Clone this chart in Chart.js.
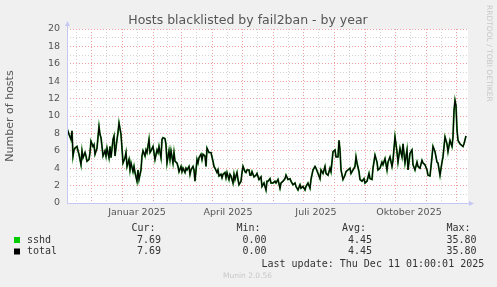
<!DOCTYPE html>
<html>
<head>
<meta charset="utf-8">
<script src="https://cdn.jsdelivr.net/npm/chart.js@4"></script>
<style>
  html, body { margin: 0; padding: 0; background: #f0f0f0; }
  canvas { display: block; }
</style>
</head>
<body>
<canvas id="mycanvas" width="497" height="287"></canvas>
<script>
// day 0 = 7 Nov 2024, one step per day (munin "by year" = 400 days)
var days = [0,2,4,5,6,7,8,10,11,12,14,15,16,18,19,20,22,23,24,26,27,28,30,32,33,34,35,36,38,39,
  40,42,43,44,46,47,48,50,51,52,54,55,56,58,59,60,62,63,64,66,67,68,70,71,72,74,75,76,78,79,
  80,82,83,84,86,87,88,90,91,92,94,95,96,98,99,100,102,103,104,106,107,108,110,111,112,114,115,116,118,119,
  120,122,123,124,126,127,128,130,131,132,134,135,136,138,139,140,142,143,144,146,147,148,150,151,152,154,155,156,158,159,
  160,162,163,164,166,167,168,170,171,172,174,175,176,178,179,180,182,183,184,185,187,189,190,192,194,195,197,199,200,201,
  203,204,206,208,209,211,213,214,216,218,219,221,223,224,226,228,229,231,233,234,236,238,239,241,243,244,246,248,249,251,
  253,254,256,258,259,261,263,264,266,268,269,271,272,273,274,276,278,279,281,283,284,286,288,289,290,292,293,295,297,298,
  300,302,303,305,306,308,310,311,313,315,316,318,320,321,323,325,326,328,330,331,333,335,336,338,340,341,343,345,346,348,
  350,351,353,355,356,358,360,361,363,365,366,368,370,371,373,375,376,378,380,381,383,385,386,387,388,389,390,391,393,395,
  396,397,399];
var sshd = [8.6,7.9,7.3,8.3,5.4,6.1,6.3,6.5,6.0,5.6,4.4,6.0,5.2,5.8,5.4,4.8,5.0,5.8,7.1,6.5,6.7,5.6,6.3,8.8,7.9,7.5,6.5,5.4,6.0,5.4,
  6.3,5.2,6.5,5.2,7.3,7.7,5.4,7.3,8.1,9.2,7.9,6.3,4.6,5.2,5.8,4.2,5.0,3.8,4.6,3.6,4.2,3.5,2.5,3.8,2.7,3.8,5.4,6.0,5.4,6.1,
  5.8,7.3,5.8,6.0,6.5,5.8,5.0,6.1,5.8,6.5,5.2,7.3,7.5,7.4,6.7,4.6,6.0,5.0,6.0,4.6,5.8,4.8,4.6,4.2,3.6,4.2,3.6,4.0,3.5,4.0,
  3.8,4.2,3.3,3.8,4.2,3.8,2.5,5.0,4.6,5.2,5.6,5.0,5.6,5.4,4.2,6.3,5.8,5.8,5.8,4.8,4.2,4.0,3.5,3.8,3.1,3.3,2.9,3.3,3.5,2.9,
  3.5,2.7,3.3,3.1,2.3,3.3,2.7,3.5,2.7,2.1,2.5,3.5,4.2,3.6,3.5,3.8,3.8,3.2,3.2,3.6,3.0,3.2,3.4,2.7,3.0,1.9,2.3,1.5,2.5,2.5,
  2.8,2.3,2.3,2.5,2.3,2.7,1.7,2.3,2.5,2.8,3.2,2.7,2.8,2.5,2.1,2.3,1.9,1.5,2.1,1.7,1.9,1.5,1.9,2.3,1.7,2.7,3.8,4.2,4.0,3.4,
  2.8,3.8,3.4,4.2,3.4,3.2,4.0,3.6,5.9,6.1,5.3,5.3,7.2,6.1,3.8,2.7,3.2,3.6,3.8,4.0,3.4,3.8,4.2,5.3,4.6,3.6,2.7,2.5,2.8,2.3,
  2.5,3.4,2.8,2.7,4.0,5.5,4.7,3.8,4.0,4.7,4.4,5.1,3.8,4.7,5.3,4.2,4.9,7.6,5.9,4.7,6.3,5.3,6.8,4.6,6.1,3.8,5.7,6.1,4.4,3.8,
  4.7,4.2,4.0,4.9,4.6,4.4,3.8,3.2,3.1,5.3,6.5,5.9,4.7,4.6,3.2,4.7,5.3,7.6,6.8,5.9,7.2,6.5,7.6,10.6,11.8,11.2,8.4,7.2,6.8,6.6,
  6.5,6.8,7.7];
var total = sshd; // only one plugin, so total == sshd

var monthStarts = [24,55,86,114,145,175,206,236,267,298,328,359,389];
var monthMids = [9,39,70,100,129,160,190,221,251,282,313,343,374];
var labelDays = [70,161,249,342];
var monthLabels = ['Januar 2025','April 2025','Juli 2025','Oktober 2025'];

var legendNames = ['sshd','total'];
var legendColors = ['#00cc00','#000000'];
var cur = ['7.69','7.69'];
var min = ['0.00','0.00'];
var avg = ['4.45','4.45'];
var max = ['35.80','35.80'];

var RED = 'rgb(238,160,160)';
var GRAY = 'rgb(212,212,212)';
var AXIS = '#c4c8f2';

function pts(arr) {
	return days.map(function(d, i) { return {x: d, y: arr[i]}; });
}

var decor = {
	id: 'decor',
	beforeDraw: function(chart) {
		var c = chart.ctx, a = chart.chartArea;
		c.save();
		c.fillStyle = '#f0f0f0';
		c.fillRect(0, 0, chart.width, chart.height);
		c.fillStyle = '#ffffff';
		c.fillRect(a.left, a.top, a.right - a.left, a.bottom - a.top);
		c.restore();
	},
	afterDraw: function(chart) {
		var c = chart.ctx, a = chart.chartArea;
		c.save();
		// axes + arrows
		c.strokeStyle = AXIS;
		c.lineWidth = 1;
		c.beginPath();
		c.moveTo(a.left + 0.5, a.bottom);
		c.lineTo(a.left + 0.5, a.top - 4);
		c.moveTo(a.left, a.bottom + 0.5);
		c.lineTo(a.right + 3, a.bottom + 0.5);
		c.stroke();
		c.fillStyle = AXIS;
		c.beginPath();
		c.moveTo(a.left - 2, a.top - 3); c.lineTo(a.left + 3, a.top - 3); c.lineTo(a.left + 0.5, a.top - 8);
		c.fill();
		c.beginPath();
		c.moveTo(a.right + 1, a.bottom - 2); c.lineTo(a.right + 1, a.bottom + 3); c.lineTo(a.right + 6, a.bottom + 0.5);
		c.fill();

		// title
		c.fillStyle = '#555';
		c.font = '12.5px "DejaVu Sans"';
		c.textAlign = 'center';
		c.textBaseline = 'alphabetic';
		c.fillText('Hosts blacklisted by fail2ban - by year', 248, 24);

		// rrdtool credit
		c.save();
		c.translate(485.5, 5);
		c.rotate(Math.PI / 2);
		c.fillStyle = '#c8c8c8';
		c.font = '7.5px "DejaVu Sans"';
		c.textAlign = 'left';
		c.textBaseline = 'bottom';
		c.fillText('RRDTOOL / TOBI OETIKER', 0, 0);
		c.restore();

		// legend
		c.font = '10px "DejaVu Sans Mono"';
		c.textBaseline = 'middle';
		c.textAlign = 'left';
		c.fillStyle = '#333';
		c.fillText('Cur:', 131.5, 228);
		c.fillText('Min:', 236.5, 228);
		c.fillText('Avg:', 342, 228);
		c.fillText('Max:', 446.5, 228);
		for (var i = 0; i < legendNames.length; i++) {
			var y = 240 + i * 11.5;
			c.fillStyle = legendColors[i];
			c.fillRect(14, y - 3, 6, 6);
			c.fillStyle = '#333';
			c.fillText(legendNames[i], 27, y);
			c.fillText(cur[i], 137, y);
			c.fillText(min[i], 242.5, y);
			c.fillText(avg[i], 348, y);
			c.fillText(max[i], 446.5, y);
		}
		c.fillText('Last update: Thu Dec 11 01:00:01 2025', 261.5, 264);

		c.fillStyle = '#c8c8c8';
		c.font = '7.5px "DejaVu Sans"';
		c.textAlign = 'left';
		c.fillText('Munin 2.0.56', 223, 276);
		c.restore();
	}
};

var ctx = document.getElementById('mycanvas');

var lineGraph = new Chart(ctx, {
	type: 'line',
	data: {
		datasets: [
			{ label: 'total', data: pts(total), borderColor: '#000000', borderWidth: 1.1, order: 0 },
			{ label: 'sshd', data: pts(sshd), borderColor: '#1f8a1f', borderWidth: 1.8, order: 1 }
		]
	},
	options: {
		responsive: false,
		animation: false,
		layout: { padding: { top: 29, right: 29, left: 0, bottom: 0 } },
		elements: { point: { radius: 0 }, line: { tension: 0 } },
		plugins: { legend: { display: false }, tooltip: { enabled: false } },
		scales: {
			x: {
				type: 'linear', position: 'bottom', weight: 1,
				min: 0, max: 401,
				afterBuildTicks: function(s) {
					s.ticks = monthStarts.concat(monthMids).sort(function(a, b) { return a - b; })
						.map(function(v) { return {value: v}; });
				},
				afterFit: function(s) { s.height = 0; },
				ticks: { display: false },
				grid: {
					drawTicks: false,
					color: function(c) { return monthStarts.indexOf(c.tick.value) >= 0 ? RED : GRAY; }
				},
				border: { display: false, dash: [1, 2] }
			},
			xl: {
				type: 'linear', position: 'bottom', weight: 0,
				min: 0, max: 401,
				afterBuildTicks: function(s) {
					s.ticks = labelDays.map(function(v) { return {value: v}; });
				},
				afterFit: function(s) { s.height = 84; },
				ticks: {
					autoSkip: false, maxRotation: 0, padding: 4,
					color: '#555',
					font: { family: 'DejaVu Sans', size: 9.5 },
					callback: function(v, i) { return monthLabels[i]; }
				},
				grid: { display: false, drawTicks: false },
				border: { display: false }
			},
			y: {
				min: 0, max: 20,
				afterFit: function(s) { s.width = 67; },
				ticks: {
					stepSize: 1, autoSkip: false, padding: 7,
					color: '#555',
					font: { family: 'DejaVu Sans', size: 9.5 },
					callback: function(v) { return v % 2 === 0 ? v : ''; }
				},
				grid: {
					drawTicks: false,
					color: function(c) { return c.tick.value % 2 === 0 ? RED : GRAY; }
				},
				border: { display: false, dash: [1, 2] },
				title: {
					display: true, text: 'Number of hosts',
					color: '#555',
					font: { family: 'DejaVu Sans', size: 11 }
				}
			}
		}
	},
	plugins: [decor]
});
</script>
</body>
</html>
